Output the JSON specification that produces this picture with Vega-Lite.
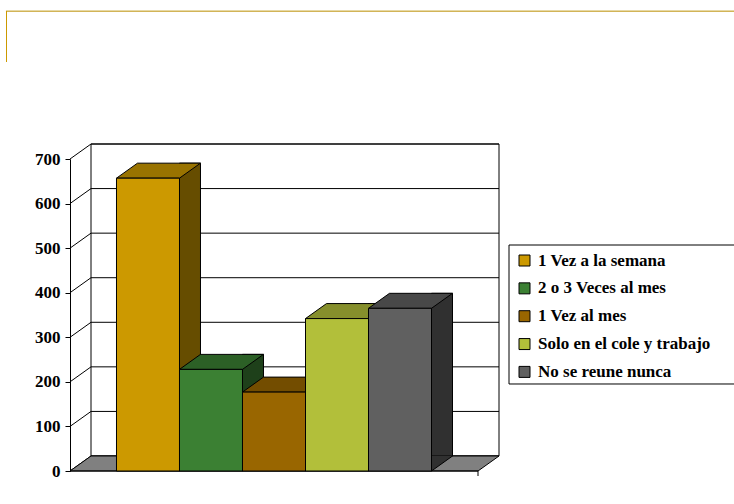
{
  "$schema": "https://vega.github.io/schema/vega-lite/v6.json",
  "width": 408,
  "height": 312,
  "autosize": {"type": "none"},
  "padding": {"left": 70, "top": 159, "right": 256, "bottom": 33},
  "background": "white",
  "config": {"view": {"stroke": null}, "font": "'Liberation Serif', 'Times New Roman', serif"},
  "datasets": {
    "bars": [
      {"cat": "1 Vez a la semana", "value": 657},
      {"cat": "2 o 3 Veces al mes", "value": 228},
      {"cat": "1 Vez al mes", "value": 177},
      {"cat": "Solo en el cole y trabajo", "value": 342},
      {"cat": "No se reune nunca", "value": 365}
    ],
    "levels": [{"v": 0}, {"v": 100}, {"v": 200}, {"v": 300}, {"v": 400}, {"v": 500}, {"v": 600}, {"v": 700}]
  },
  "resolve": {"scale": {"x": "independent"}},
  "layer": [
    {
      "layer": [
        {
          "data": {"values": [{}]},
          "mark": {"type": "rule", "color": "#E6D9A6", "strokeWidth": 1},
          "encoding": {
            "x": {"datum": -0.157, "type": "quantitative", "scale": {"domain": [0, 1], "nice": false, "zero": false}, "axis": null},
            "x2": {"datum": 1.8},
            "y": {"datum": 1033.17, "type": "quantitative", "scale": {"domain": [0, 700], "nice": false, "zero": false}, "axis": {"values": [0, 100, 200, 300, 400, 500, 600, 700], "title": null, "grid": false, "domain": true, "domainColor": "black", "tickColor": "black", "tickSize": 5, "labelPadding": 5, "labelFont": "'Liberation Serif', 'Times New Roman', serif", "labelFontSize": 17, "labelFontWeight": "bold", "labelColor": "black", "labelOverlap": false, "labelFlush": false}}
          }
        },
        {
          "data": {"values": [{}]},
          "mark": {"type": "rule", "color": "#D2B456", "strokeWidth": 1},
          "encoding": {
            "x": {"datum": -0.157, "type": "quantitative", "scale": {"domain": [0, 1], "nice": false, "zero": false}, "axis": null},
            "x2": {"datum": 1.8},
            "y": {"datum": 1030.93, "type": "quantitative"}
          }
        },
        {
          "data": {"values": [{}]},
          "mark": {"type": "rule", "color": "#CC9900", "strokeWidth": 1},
          "encoding": {
            "x": {"datum": -0.1556, "type": "quantitative", "scale": {"domain": [0, 1], "nice": false, "zero": false}, "axis": null},
            "y": {"datum": 1032, "type": "quantitative"},
            "y2": {"datum": 917.6}
          }
        },
        {
          "data": {"values": [{}]},
          "mark": {"type": "rect", "fill": "white", "stroke": "black", "strokeWidth": 1},
          "encoding": {
            "x": {"datum": 1.076, "type": "quantitative", "scale": {"domain": [0, 1], "nice": false, "zero": false}, "axis": null},
            "x2": {"datum": 1.8},
            "y": {"datum": 195.2, "type": "quantitative"},
            "y2": {"datum": 507.05}
          }
        },
        {
          "data": {"values": [{}]},
          "mark": {"type": "rect", "fill": "white", "stroke": "black", "strokeWidth": 1, "xOffset": 21, "x2Offset": 21, "yOffset": -15, "y2Offset": -15},
          "encoding": {
            "x": {"datum": 0, "type": "quantitative", "scale": {"domain": [0, 1], "nice": false, "zero": false}, "axis": null},
            "x2": {"datum": 1},
            "y": {"datum": 0, "type": "quantitative"},
            "y2": {"datum": 700}
          }
        },
        {
          "data": {"name": "levels"},
          "mark": {"type": "rule", "color": "black", "strokeWidth": 1, "xOffset": 21, "x2Offset": 21, "yOffset": -15, "y2Offset": -15},
          "encoding": {
            "x": {"datum": 0, "type": "quantitative", "scale": {"domain": [0, 1], "nice": false, "zero": false}, "axis": null},
            "x2": {"datum": 1},
            "y": {"field": "v", "type": "quantitative"},
            "y2": {"field": "v"}
          }
        },
        {
          "data": {"name": "levels"},
          "mark": {"type": "rule", "color": "black", "strokeWidth": 1, "x2Offset": 21, "y2Offset": -15},
          "encoding": {
            "x": {"datum": 0, "type": "quantitative", "scale": {"domain": [0, 1], "nice": false, "zero": false}, "axis": null},
            "x2": {"datum": 0},
            "y": {"field": "v", "type": "quantitative"},
            "y2": {"field": "v"}
          }
        },
        {
          "data": {"values": [{}]},
          "mark": {"type": "point", "shape": "M0,0 L408,0 L429,-15 L21,-15 Z", "size": 4, "filled": true, "opacity": 1, "fill": "#808080", "stroke": "black", "strokeWidth": 1},
          "encoding": {
            "x": {"datum": 0, "type": "quantitative", "scale": {"domain": [0, 1], "nice": false, "zero": false}, "axis": null},
            "y": {"datum": 0, "type": "quantitative"}
          }
        },
        {
          "data": {"values": [{}]},
          "mark": {"type": "rule", "color": "black", "strokeWidth": 1},
          "encoding": {
            "x": {"datum": 0, "type": "quantitative", "scale": {"domain": [0, 1], "nice": false, "zero": false}, "axis": null},
            "x2": {"datum": 1},
            "y": {"datum": 0, "type": "quantitative"}
          }
        },
        {
          "data": {"values": [{}]},
          "mark": {"type": "rule", "color": "black", "strokeWidth": 1, "y2Offset": 5},
          "encoding": {
            "x": {"datum": 1, "type": "quantitative", "scale": {"domain": [0, 1], "nice": false, "zero": false}, "axis": null},
            "y": {"datum": 0, "type": "quantitative"},
            "y2": {"datum": 0}
          }
        }
      ]
    },
    {
      "data": {"name": "bars"},
      "resolve": {"scale": {"color": "independent"}},
      "layer": [
        {
          "mark": {"type": "bar", "width": 21, "xOffset": 42, "yOffset": -15, "y2Offset": -15, "stroke": "black", "strokeWidth": 1},
          "encoding": {
            "x": {"field": "cat", "type": "nominal", "sort": null, "scale": {"domain": ["1 Vez a la semana", "2 o 3 Veces al mes", "1 Vez al mes", "Solo en el cole y trabajo", "No se reune nunca"], "paddingInner": 0, "paddingOuter": 0.738}, "axis": null},
            "y": {"field": "value", "type": "quantitative", "stack": null},
            "y2": {"datum": 0},
            "color": {"field": "cat", "type": "nominal", "scale": {"domain": ["1 Vez a la semana", "2 o 3 Veces al mes", "1 Vez al mes", "Solo en el cole y trabajo", "No se reune nunca"], "range": ["#664D00", "#1E401A", "#4D3300", "#59601D", "#303030"]}, "legend": null}
          }
        },
        {
          "mark": {"type": "point", "shape": "M31.5,-15 L31.5,0 L52.5,-15", "size": 4, "filled": true, "opacity": 1, "stroke": "black", "strokeWidth": 1},
          "encoding": {
            "x": {"field": "cat", "type": "nominal", "sort": null, "scale": {"domain": ["1 Vez a la semana", "2 o 3 Veces al mes", "1 Vez al mes", "Solo en el cole y trabajo", "No se reune nunca"], "paddingInner": 0, "paddingOuter": 0.738}, "axis": null},
            "y": {"datum": 0, "type": "quantitative"},
            "color": {"field": "cat", "type": "nominal", "scale": {"domain": ["1 Vez a la semana", "2 o 3 Veces al mes", "1 Vez al mes", "Solo en el cole y trabajo", "No se reune nunca"], "range": ["#664D00", "#1E401A", "#4D3300", "#59601D", "#303030"]}, "legend": null}
          }
        },
        {
          "mark": {"type": "point", "shape": "M-31.5,0 L31.5,0 L52.5,-15 L-10.5,-15 Z", "size": 4, "filled": true, "opacity": 1, "stroke": "black", "strokeWidth": 1},
          "encoding": {
            "x": {"field": "cat", "type": "nominal", "sort": null, "scale": {"domain": ["1 Vez a la semana", "2 o 3 Veces al mes", "1 Vez al mes", "Solo en el cole y trabajo", "No se reune nunca"], "paddingInner": 0, "paddingOuter": 0.738}, "axis": null},
            "y": {"field": "value", "type": "quantitative"},
            "color": {"field": "cat", "type": "nominal", "scale": {"domain": ["1 Vez a la semana", "2 o 3 Veces al mes", "1 Vez al mes", "Solo en el cole y trabajo", "No se reune nunca"], "range": ["#997300", "#2C6026", "#734D00", "#868F2C", "#484848"]}, "legend": null}
          }
        },
        {
          "mark": {"type": "bar", "stroke": "black", "strokeWidth": 1},
          "encoding": {
            "x": {"field": "cat", "type": "nominal", "sort": null, "scale": {"domain": ["1 Vez a la semana", "2 o 3 Veces al mes", "1 Vez al mes", "Solo en el cole y trabajo", "No se reune nunca"], "paddingInner": 0, "paddingOuter": 0.738}, "axis": null},
            "y": {"field": "value", "type": "quantitative", "stack": null},
            "color": {"field": "cat", "type": "nominal", "scale": {"domain": ["1 Vez a la semana", "2 o 3 Veces al mes", "1 Vez al mes", "Solo en el cole y trabajo", "No se reune nunca"], "range": ["#CC9900", "#3B8033", "#996600", "#B2BF3A", "#606060"]}, "legend": {"orient": "none", "legendX": 446, "legendY": 93, "title": null, "padding": 0, "symbolType": "square", "symbolSize": 121, "symbolStrokeColor": "black", "symbolStrokeWidth": 1, "labelFont": "'Liberation Serif', 'Times New Roman', serif", "labelFontSize": 17, "labelFontWeight": "bold", "labelColor": "black", "labelOffset": 5, "rowPadding": 9.85, "labelLimit": 400}}
          }
        }
      ]
    }
  ]
}
